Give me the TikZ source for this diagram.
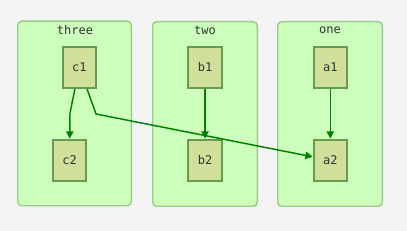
\documentclass[tikz,border=0pt]{standalone}
\usepackage{fontspec}
\setmonofont{DejaVu Sans Mono}
\usetikzlibrary{arrows.meta}

\definecolor{bgcol}{HTML}{F4F4F4}
\definecolor{clusterfill}{HTML}{CCFFBB}
\definecolor{clusterline}{HTML}{99CC88}
\definecolor{boxfill}{HTML}{D0E09A}
\definecolor{boxline}{HTML}{6A9A50}
\definecolor{edgecol}{HTML}{008000}
\definecolor{txtcol}{HTML}{333333}

\begin{document}
\begin{tikzpicture}[
  x=0.75pt, y=-0.75pt,
  font=\ttfamily\fontsize{9}{11}\selectfont,
  cluster/.style={draw=clusterline, fill=clusterfill, line width=1.1pt, rounded corners=3pt, minimum width=106*0.75pt-1.1pt, minimum height=186*0.75pt-1.1pt, inner sep=0pt},
  title/.style={text=txtcol, inner sep=0pt},
  box/.style={draw=boxline, fill=boxfill, line width=1.5pt, minimum width=25pt, minimum height=31pt, inner sep=0pt, text=txtcol},
  edge/.style={-{Triangle[length=5.5pt,width=5.5pt]}, line width=1.1pt, draw=edgecol}
]
\fill[bgcol] (0,0) rectangle (407,231);
\useasboundingbox (0,0) rectangle (407,231);

% clusters
\node[cluster, minimum width=115*0.75pt-1.1pt] (three) at (74.5,113.5) {};
\node[cluster] (two) at (205,114) {};
\node[cluster] (one) at (330,114) {};
\node[title] (tthree) at (75,30) {three};
\node[title] (ttwo) at (205,30) {two};
\node[title] (tone) at (330,30) {one};

% boxes
\node[box] (c1) at (79.3,67.3) {c1};
\node[box] (c2) at (69.5,160.3) {c2};
\node[box] (b1) at (205,67.3) {b1};
\node[box] (b2) at (205,160.3) {b2};
\node[box] (a1) at (330.3,67.3) {a1};
\node[box] (a2) at (330.3,160.3) {a2};

\coordinate (k1) at (70,113);
\coordinate (k2) at (96,114);

\draw[edge] (c1) -- (k1) -- (c2);
\draw[edge] (b1) -- (b2);
\draw[edge] (a1) -- (a2);
\draw[edge] (c1) -- (k2) -- (a2);

\end{tikzpicture}
\end{document}
